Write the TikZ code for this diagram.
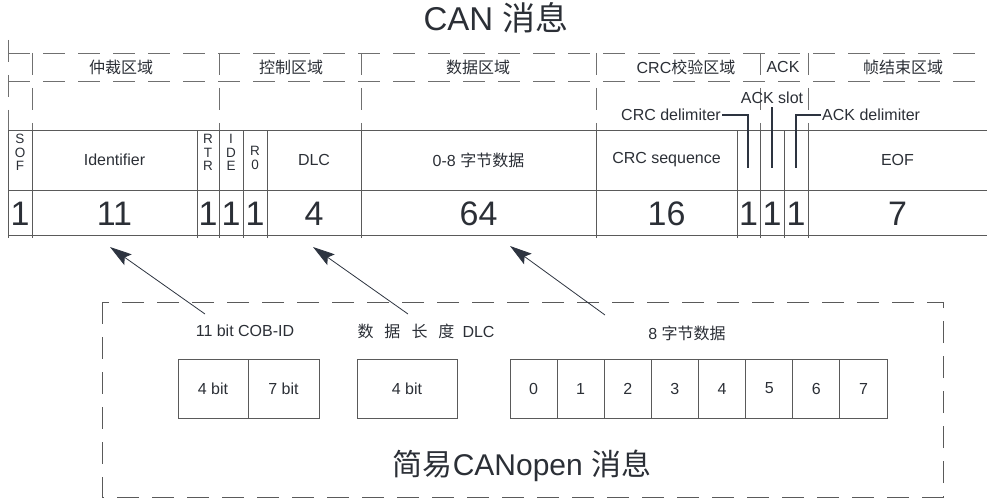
\documentclass[tikz,border=0pt]{standalone}
\usepackage{fontspec}
\setmainfont{Liberation Sans}
\newfontfamily\cjkf{Noto Sans CJK SC}
\usetikzlibrary{arrows.meta}
\definecolor{dashc}{HTML}{707070}
\definecolor{tabc}{HTML}{5A5A5A}
\definecolor{txtc}{HTML}{2B2F36}
\definecolor{annc}{HTML}{2D3440}
\begin{document}
\begin{tikzpicture}[x=1pt,y=-1pt,
  dline/.style={draw=dashc, line width=0.9pt, dash pattern=on 22pt off 13pt},
  tline/.style={draw=tabc, line width=0.9pt},
  lbl/.style={font=\fontsize{16}{19}\selectfont, text=txtc, inner sep=0pt},
  big/.style={font=\fontsize{34}{40}\selectfont, text=txtc, inner sep=0pt},
  ttl/.style={font=\fontsize{31}{37}\selectfont, text=txtc, inner sep=0pt},
  stk/.style={font=\fontsize{13.5}{16}\selectfont, text=txtc, inner sep=0pt},
  annline/.style={draw=annc, line width=2pt},
  arr/.style={draw=annc, line width=0.8pt, -{Stealth[length=22pt,width=13pt,inset=4pt]}},
  boxc/.style={draw=tabc, line width=0.9pt, minimum height=59pt, inner sep=0pt, font=\fontsize{16}{19}\selectfont, text=txtc},
]
\useasboundingbox (0,0) rectangle (987,500);

% title
\node[ttl, font=\fontsize{33}{40}\selectfont] (title) at (496,18) {CAN {\cjkf 消息}};

% dashed region frame
\draw[dline] (8,40) -- (8,130);
\draw[dline] (8,53) -- (987,53);
\draw[dline] (8,81) -- (987,81);
\foreach \x in {32,219,361,596,760,808} \draw[dline] (\x,53) -- (\x,130);

% region labels
\node[lbl] (r1) at (121,67) {\cjkf 仲裁区域};
\node[lbl] (r2) at (291,67) {\cjkf 控制区域};
\node[lbl] (r3) at (478,67) {\cjkf 数据区域};
\node[lbl] (r4) at (686,67) {CRC{\cjkf 校验区域}};
\node[lbl] (r5) at (783,67) {ACK};
\node[lbl] (r6) at (903,67) {\cjkf 帧结束区域};

% table
\foreach \y in {130,190,235} \draw[tline] (8,\y) -- (987,\y);
\foreach \x in {8,32,197,219,243,267,361,596,737,760,784,808} \draw[tline] (\x,130) -- (\x,238);

% row 1
\node[stk] (sofS) at (20,139) {S};
\node[stk] (sofO) at (20,152.5) {O};
\node[stk] (sofF) at (20,166) {F};
\node[lbl] (ident) at (114.5,160) {Identifier};
\node[stk] (rtrR) at (208,139) {R};
\node[stk] (rtrT) at (208,152.5) {T};
\node[stk] (rtrR2) at (208,166) {R};
\node[stk] (ideI) at (231,139) {I};
\node[stk] (ideD) at (231,152.5) {D};
\node[stk] (ideE) at (231,166) {E};
\node[stk] (rzR) at (255,151) {R};
\node[stk] (rz0) at (255,165) {0};
\node[lbl] (dlc) at (314,160) {DLC};
\node[lbl] (data) at (478.5,160) {0-8 {\cjkf 字节数据}};
\node[lbl] (crcs) at (666.5,160) {CRC sequence};
\node[lbl] (eof) at (897.5,160) {EOF};

% row 2
\node[big] (n1) at (20,214) {1};
\node[big] (n2) at (114.5,214) {11};
\node[big] (n3) at (208,214) {1};
\node[big] (n4) at (231,214) {1};
\node[big] (n5) at (255,214) {1};
\node[big] (n6) at (314,214) {4};
\node[big] (n7) at (478.5,214) {64};
\node[big] (n8) at (666.5,214) {16};
\node[big] (n9) at (748.5,214) {1};
\node[big] (n10) at (772,214) {1};
\node[big] (n11) at (796,214) {1};
\node[big] (n12) at (897.5,214) {7};

% annotations
\node[lbl, inner sep=1pt, anchor=east] (crcd) at (722,115) {CRC delimiter};
\coordinate (cdend) at (748,168);
\draw[annline] (crcd.east) -| (cdend);
\node[lbl] (ackslot) at (772,98) {ACK slot};
\coordinate (asend) at (772,168);
\draw[annline] ([yshift=-3pt]ackslot.south) -- (asend);
\node[lbl, inner sep=1pt, anchor=west] (ackd) at (821,115) {ACK delimiter};
\coordinate (adend) at (796,168);
\draw[annline] (ackd.west) -| (adend);

% bottom box
\draw[dline, draw=tabc] (102,302) rectangle (943,497);
\node[lbl] (cobid) at (245,331) {11 bit COB-ID};
\node[lbl] (dlclab) at (426,331) {\cjkf 数\hspace{11pt}据\hspace{11pt}长\hspace{11pt}度\hspace{8pt}\fontspec{Liberation Sans}DLC};
\node[lbl] (bytes) at (687,333) {8 {\cjkf 字节数据}};
\node[boxc, minimum width=70pt] (b4) at (213,388.5) {4 bit};
\node[boxc, minimum width=71pt] (b7) at (283.5,388.5) {7 bit};
\node[boxc, minimum width=100pt] (dlc4) at (407,388.5) {4 bit};
\foreach \i in {0,...,7}
  \node[boxc, minimum width=47.125pt] (byte\i) at ({510+47.125*(\i+0.5)},388.5) {\i};
\node[ttl, font=\fontsize{30}{36}\selectfont] (bottomtitle) at (522,466) {{\cjkf 简易}CANopen {\cjkf 消息}};

% arrows
\coordinate (t1) at (205,314); \coordinate (h1) at (110,247);
\coordinate (t2) at (408,314); \coordinate (h2) at (313,247);
\coordinate (t3) at (605,315); \coordinate (h3) at (510,246);
\draw[arr] (t1) -- (h1);
\draw[arr] (t2) -- (h2);
\draw[arr] (t3) -- (h3);
\end{tikzpicture}
\end{document}
